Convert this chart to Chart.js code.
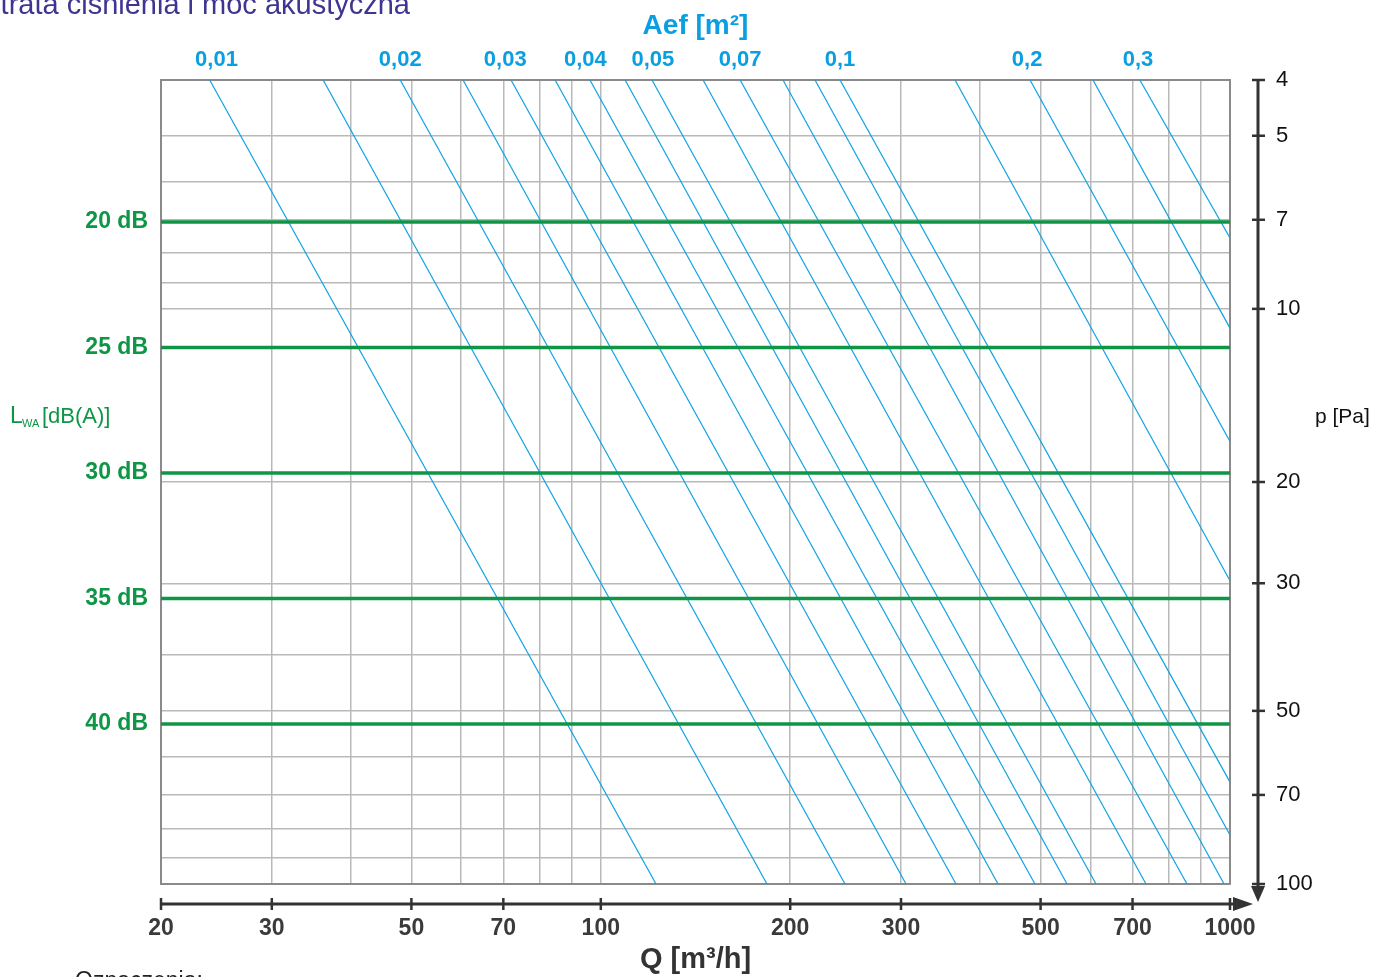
<!DOCTYPE html>
<html><head><meta charset="utf-8">
<script src="https://cdn.jsdelivr.net/npm/chart.js@4.4.1/dist/chart.umd.min.js"></script>
<style>html,body{margin:0;padding:0;background:#fff;overflow:hidden}#wrap{position:relative;width:1383px;height:977px}</style>
</head><body><div id="wrap"><canvas id="c" width="1383" height="977"></canvas></div>
<script>
// ---- data ----
const areaLabels = ['0,01','0,02','0,03','0,04','0,05','0,07','0,1','0,2','0,3'];
const areaLabelQ = [24.5, 48, 70.5, 94.5, 121, 166.5, 240, 476, 714];
const lineArea  = [0.01,0.015,0.02,0.025,0.03,0.035,0.04,0.045,0.05,0.06,0.07,0.08,0.09,0.1,0.15,0.2,0.25,0.3];
const lineTopQ  = [23.9,36.2,48,60.4,72,84.6,96.1,109.3,120.6,145.4,166.5,194.8,219,240,365.6,481,605.6,719];
const lineTopP  = [4,4,4,4,4,4,4,4,4,4,4,4,4,4,4,4,4,4];
const lineEndQ  = [122.4,183.7,244.4,305.6,366.9,427.9,489.8,550.8,612.4,735.4,854.4,978.6,1000,1000,1000,1000,1000,1000];
const lineEndP  = [100,100,100,100,100,100,100,100,100,100,100,100,82.2,66.5,29.7,17.0,10.8,7.53];
const qTicks = [20,30,50,70,100,200,300,500,700,1000];
const qGrid  = [20,30,40,50,60,70,80,90,100,200,300,400,500,600,700,800,900,1000];
const pTicks = [4,5,7,10,20,30,50,70,100];
const pGrid  = [4,5,6,7,8,9,10,20,30,40,50,60,70,80,90,100];
const dbLevels = [20,25,30,35,40];

const GREEN = '#0e9646', BLUE = '#10a2e4', GRID = '#b9b9b9', FRAME = '#8a8a8a', AX = '#333333';
const FONT = "'Liberation Sans', Arial, sans-serif";

const datasets = [];
dbLevels.forEach(l => datasets.push({
  label: l + ' dB', data: [{x: 20, y: l}, {x: 1000, y: l}],
  xAxisID: 'x', yAxisID: 'yDb', borderColor: GREEN, borderWidth: 3.5, pointRadius: 0, clip: 4
}));
lineArea.forEach((a, i) => datasets.push({
  label: 'A=' + a, data: [{x: lineTopQ[i], y: lineTopP[i]}, {x: lineEndQ[i], y: lineEndP[i]}],
  xAxisID: 'x', yAxisID: 'y', borderColor: BLUE, borderWidth: 1.2, pointRadius: 0
}));

const extras = {
  id: 'extras',
  afterDraw(chart) {
    const ctx = chart.ctx, ca = chart.chartArea, xs = chart.scales.x, ys = chart.scales.y;
    ctx.save();
    ctx.strokeStyle = AX; ctx.fillStyle = AX; ctx.lineWidth = 3;
    // bottom axis with arrow
    const ay = ca.bottom + 20;
    ctx.beginPath(); ctx.moveTo(ca.left, ay); ctx.lineTo(ca.right + 6, ay); ctx.stroke();
    ctx.beginPath(); ctx.moveTo(ca.right + 3, ay - 7); ctx.lineTo(ca.right + 23, ay); ctx.lineTo(ca.right + 3, ay + 7); ctx.closePath(); ctx.fill();
    ctx.lineWidth = 2.5;
    qTicks.forEach(v => { const px = xs.getPixelForValue(v); ctx.beginPath(); ctx.moveTo(px, ay - 6); ctx.lineTo(px, ay + 6); ctx.stroke(); });
    // right axis with arrow
    const ax = ca.right + 28;
    ctx.lineWidth = 3;
    ctx.beginPath(); ctx.moveTo(ax, ca.top + 1); ctx.lineTo(ax, ca.bottom + 4); ctx.stroke();
    ctx.beginPath(); ctx.moveTo(ax - 7, ca.bottom + 2); ctx.lineTo(ax, ca.bottom + 18); ctx.lineTo(ax + 7, ca.bottom + 2); ctx.closePath(); ctx.fill();
    ctx.lineWidth = 2.5;
    pTicks.forEach(v => { const py = ys.getPixelForValue(v); ctx.beginPath(); ctx.moveTo(ax - 6, py); ctx.lineTo(ax + 7, py); ctx.stroke(); });
    // texts
    ctx.textBaseline = 'alphabetic';
    ctx.fillStyle = '#111'; ctx.font = '21px ' + FONT; ctx.textAlign = 'left';
    ctx.fillText('p [Pa]', 1315, 423);
    ctx.fillStyle = GREEN;
    ctx.font = '23px ' + FONT; ctx.fillText('L', 10, 423);
    ctx.font = '11px ' + FONT; ctx.fillText('WA', 22, 427);
    ctx.font = '22px ' + FONT; ctx.fillText('[dB(A)]', 42, 423);
    ctx.fillStyle = '#3d3590'; ctx.font = '29px ' + FONT; ctx.textAlign = 'right';
    ctx.fillText('Strata ciśnienia i moc akustyczna', 410, 14);
    ctx.fillStyle = '#222'; ctx.font = '23px ' + FONT; ctx.textAlign = 'left';
    ctx.fillText('Oznaczenia:', 75, 988);
    ctx.restore();
  }
};

new Chart(document.getElementById('c'), {
  type: 'line',
  data: { datasets },
  options: {
    responsive: false, animation: false,
    layout: { padding: 0 },
    plugins: { legend: { display: false }, tooltip: { enabled: false } },
    scales: {
      x: {
        type: 'logarithmic', position: 'bottom', min: 20, max: 1000,
        afterBuildTicks: s => { s.ticks = qGrid.map(v => ({value: v})); },
        afterFit: s => { s.height = 93; },
        ticks: { autoSkip: false, maxRotation: 0, padding: 31, color: '#3a3a3a',
          font: { family: FONT, size: 23, weight: 'bold' },
          callback: v => qTicks.includes(v) ? String(v) : '' },
        grid: { color: GRID, lineWidth: 1.5, drawTicks: false },
        border: { display: true, color: FRAME, width: 2 },
        title: { display: true, text: 'Q [m³/h]', color: '#333', font: { family: FONT, size: 29, weight: 'bold' }, padding: { top: 0, bottom: 0 } }
      },
      x2: {
        type: 'logarithmic', position: 'top', min: 20, max: 1000,
        afterBuildTicks: s => { s.ticks = areaLabelQ.map(v => ({value: v})); },
        afterFit: s => { s.height = 80; },
        ticks: { autoSkip: false, maxRotation: 0, padding: 7, color: '#0a9fe0',
          font: { family: FONT, size: 22, weight: 'bold' },
          callback: (v, i) => areaLabels[i] },
        grid: { drawOnChartArea: false, drawTicks: false },
        border: { display: true, color: FRAME, width: 2 },
        title: { display: true, text: 'Aef [m²]', color: '#0a9fe0', font: { family: FONT, size: 28, weight: 'bold' }, padding: { top: 9, bottom: 0 } }
      },
      y: {
        type: 'logarithmic', position: 'right', min: 4, max: 100, reverse: true,
        afterBuildTicks: s => { s.ticks = pGrid.map(v => ({value: v})); },
        afterFit: s => { s.width = 153; },
        ticks: { autoSkip: false, padding: 46, color: '#111',
          font: { family: FONT, size: 22 },
          callback: v => pTicks.includes(v) ? String(v) : '' },
        grid: { color: GRID, lineWidth: 1.5, drawTicks: false },
        border: { display: true, color: FRAME, width: 2 }
      },
      yDb: {
        type: 'linear', position: 'left', min: 14.343, max: 46.375, reverse: true,
        afterBuildTicks: s => { s.ticks = dbLevels.map(v => ({value: v})); },
        afterFit: s => { s.width = 161; },
        ticks: { autoSkip: false, padding: 13, color: GREEN,
          font: { family: FONT, size: 23, weight: 'bold' },
          callback: v => v + ' dB' },
        grid: { display: false, drawTicks: false },
        border: { display: true, color: FRAME, width: 2 }
      }
    }
  },
  plugins: [extras]
});
</script></body></html>
